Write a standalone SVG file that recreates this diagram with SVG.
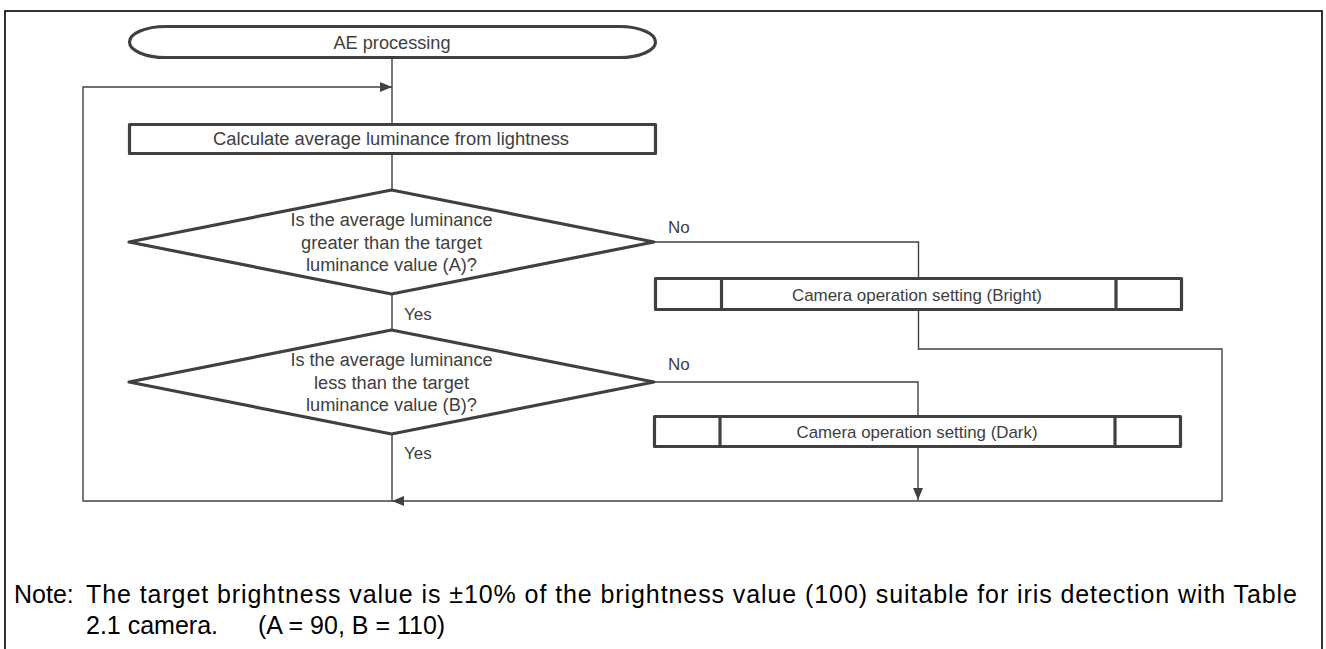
<svg xmlns="http://www.w3.org/2000/svg" width="1326" height="649" viewBox="0 0 1326 649">
<style>
.shape{fill:#ffffff;stroke:#404040;stroke-width:3.2;stroke-linejoin:round}
.div{stroke:#404040;stroke-width:3.2}
.conn{fill:none;stroke:#404040;stroke-width:1.4}
.t{font-family:"Liberation Sans",Arial,sans-serif;font-size:18px;fill:#404040;text-anchor:middle}
.lbl{font-family:"Liberation Sans",Arial,sans-serif;font-size:17px;fill:#404040}
.cam{font-family:"Liberation Sans",Arial,sans-serif;font-size:17px;fill:#404040;text-anchor:middle}
.note{font-family:"Liberation Sans",Arial,sans-serif;font-size:25px;fill:#000000}
</style>
<defs>
<marker id="arr" markerUnits="userSpaceOnUse" markerWidth="12" markerHeight="10" refX="12" refY="5" orient="auto">
<path d="M0,0 L12,5 L0,10 Z" fill="#404040"/>
</marker>
</defs>
<rect x="5" y="11" width="1317" height="660" fill="none" stroke="#000000" stroke-width="1.6"/>
<g id="connectors">
<path class="conn" d="M392,59 V123"/>
<path class="conn" d="M392,155 V190"/>
<path class="conn" d="M392,294 V330"/>
<path class="conn" d="M392,434 V501"/>
<path class="conn" d="M392,501 H83 V87 H392" marker-end="url(#arr)"/>
<path class="conn" d="M654,242 H918.5 V278"/>
<path class="conn" d="M918.5,311 V349 H1222 V501 H392" marker-end="url(#arr)"/>
<path class="conn" d="M654,382 H918 V416"/>
<path class="conn" d="M918,447 V500" marker-end="url(#arr)"/>
</g>
<g id="start">
<rect class="shape" x="129.5" y="26.5" width="526" height="31" rx="36" ry="15.5"/>
<text class="t" x="392" y="49" textLength="117" lengthAdjust="spacingAndGlyphs">AE processing</text>
</g>
<g id="calc">
<rect class="shape" x="129.5" y="124.5" width="526" height="29"/>
<text class="t" x="391" y="145" textLength="356" lengthAdjust="spacingAndGlyphs">Calculate average luminance from lightness</text>
</g>
<g id="decisionA">
<polygon class="shape" points="129,242 391.5,190 654,242 391.5,294"/>
<text class="t" x="391.5" y="226" textLength="202" lengthAdjust="spacingAndGlyphs">Is the average luminance</text>
<text class="t" x="391.5" y="249" textLength="181" lengthAdjust="spacingAndGlyphs">greater than the target</text>
<text class="t" x="391.5" y="271" textLength="171" lengthAdjust="spacingAndGlyphs">luminance value (A)?</text>
</g>
<g id="decisionB">
<polygon class="shape" points="129,382 391.5,330 654,382 391.5,434"/>
<text class="t" x="391.5" y="366" textLength="202" lengthAdjust="spacingAndGlyphs">Is the average luminance</text>
<text class="t" x="391.5" y="389" textLength="155" lengthAdjust="spacingAndGlyphs">less than the target</text>
<text class="t" x="391.5" y="411" textLength="171" lengthAdjust="spacingAndGlyphs">luminance value (B)?</text>
</g>
<g id="bright">
<rect class="shape" x="655.5" y="278.5" width="526" height="31"/>
<line class="div" x1="721.5" y1="278.5" x2="721.5" y2="309.5"/>
<line class="div" x1="1116" y1="278.5" x2="1116" y2="309.5"/>
<text class="cam" x="917" y="301" textLength="250" lengthAdjust="spacingAndGlyphs">Camera operation setting (Bright)</text>
</g>
<g id="dark">
<rect class="shape" x="654.5" y="416.5" width="526" height="30"/>
<line class="div" x1="720" y1="416.5" x2="720" y2="446.5"/>
<line class="div" x1="1115" y1="416.5" x2="1115" y2="446.5"/>
<text class="cam" x="917" y="438" textLength="241" lengthAdjust="spacingAndGlyphs">Camera operation setting (Dark)</text>
</g>
<g id="labels">
<text class="lbl" x="668" y="233">No</text>
<text class="lbl" x="668" y="370">No</text>
<text class="lbl" x="404" y="320">Yes</text>
<text class="lbl" x="404" y="459">Yes</text>
</g>
<g id="note">
<text class="note" x="14" y="603">Note:</text>
<text class="note" x="86" y="603" textLength="1211" lengthAdjust="spacing">The target brightness value is ±10% of the brightness value (100) suitable for iris detection with Table</text>
<text class="note" x="86" y="634">2.1 camera.</text>
<text class="note" x="258" y="634">(A = 90, B = 110)</text>
</g>
</svg>
